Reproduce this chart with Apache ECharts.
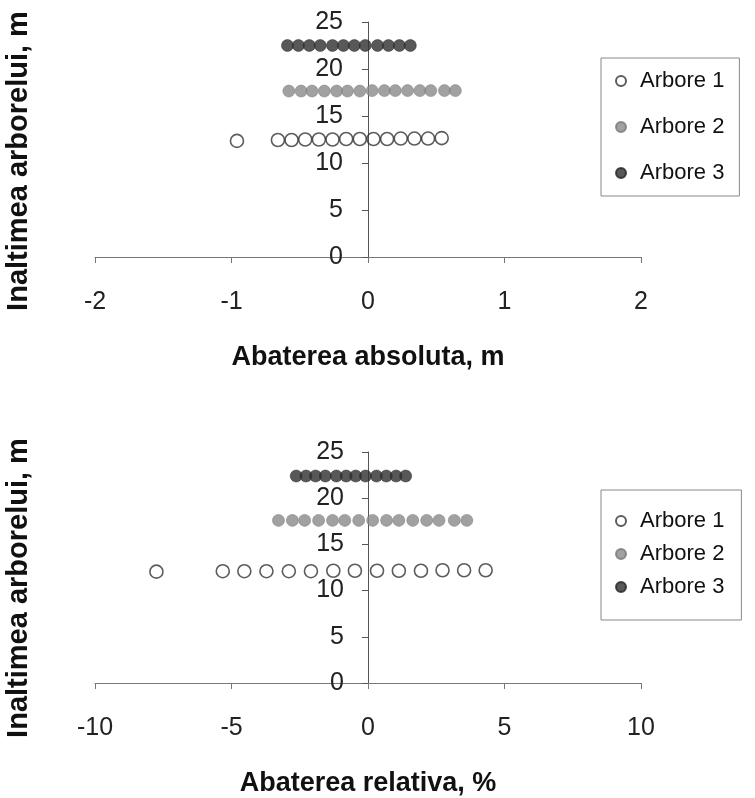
<!DOCTYPE html>
<html>
<head>
<meta charset="utf-8">
<script src="https://cdn.jsdelivr.net/npm/echarts@6/dist/echarts.min.js"></script>
<style>
html,body{margin:0;padding:0;background:#fff;}
#c{width:755px;height:798px;}
</style>
</head>
<body>
<div id="c"></div>
<script>
// ---- data ----
var seriesNames = ['Arbore 1', 'Arbore 2', 'Arbore 3'];
var absTicks = [-2, -1, 0, 1, 2];
var relTicks = [-10, -5, 0, 5, 10];
var heightTicks = [0, 5, 10, 15, 20, 25];

// top chart: absolute deviation (m) vs tree height (m)
var absX1 = [-0.96, -0.66, -0.56, -0.46, -0.36, -0.26, -0.16, -0.06, 0.04, 0.14, 0.24, 0.34, 0.44, 0.54];
var absY1 = [12.35, 12.45, 12.45, 12.5, 12.5, 12.5, 12.55, 12.55, 12.55, 12.55, 12.6, 12.6, 12.6, 12.65];
var absX2 = [-0.58, -0.49, -0.41, -0.32, -0.23, -0.15, -0.06, 0.03, 0.12, 0.20, 0.29, 0.38, 0.46, 0.56, 0.64];
var absY2 = [17.65, 17.65, 17.65, 17.65, 17.65, 17.65, 17.65, 17.7, 17.7, 17.7, 17.7, 17.7, 17.7, 17.7, 17.7];
var absX3 = [-0.59, -0.51, -0.43, -0.35, -0.26, -0.18, -0.10, -0.02, 0.07, 0.15, 0.23, 0.31];
var absY3 = [22.5, 22.5, 22.5, 22.5, 22.5, 22.5, 22.5, 22.5, 22.5, 22.5, 22.5, 22.5];

// bottom chart: relative deviation (%) vs tree height (m)
var relX1 = [-7.75, -5.32, -4.53, -3.72, -2.90, -2.09, -1.27, -0.48, 0.33, 1.13, 1.94, 2.73, 3.52, 4.31];
var relY1 = [12.05, 12.1, 12.1, 12.1, 12.1, 12.1, 12.15, 12.15, 12.15, 12.15, 12.15, 12.2, 12.2, 12.2];
var relX2 = [-3.28, -2.77, -2.32, -1.81, -1.30, -0.85, -0.34, 0.17, 0.68, 1.13, 1.64, 2.15, 2.60, 3.16, 3.62];
var relY2 = [17.6, 17.6, 17.6, 17.6, 17.6, 17.6, 17.6, 17.6, 17.6, 17.6, 17.6, 17.6, 17.6, 17.6, 17.6];
var relX3 = [-2.63, -2.27, -1.92, -1.56, -1.16, -0.80, -0.45, -0.09, 0.31, 0.67, 1.03, 1.38];
var relY3 = [22.4, 22.4, 22.4, 22.4, 22.4, 22.4, 22.4, 22.4, 22.4, 22.4, 22.4, 22.4];

function pairs(xs, ys) { return xs.map(function (x, i) { return [x, ys[i]]; }); }

var FONT = '"Liberation Sans", Arial, sans-serif';
var GRID_W = 546;
var styles = [
  { color: 'rgba(255,255,255,0)', borderColor: '#333', borderWidth: 1.6 },
  { color: '#8a8a8a', borderColor: '#777', borderWidth: 0.6 },
  { color: '#2e2e2e', borderColor: '#222', borderWidth: 0.6 }
];
var sizes = [13, 12, 12];

function xAxisCfg(gi, ticks, interval, name) {
  return {
    type: 'value', gridIndex: gi, min: ticks[0], max: ticks[ticks.length - 1], interval: interval,
    splitLine: { show: false },
    axisLine: { lineStyle: { color: '#777', width: 1 } },
    axisTick: { show: true, length: 6, lineStyle: { color: '#777' } },
    axisLabel: { color: '#222', fontSize: 25, fontFamily: FONT, margin: 33 },
    name: name, nameLocation: 'middle', nameGap: 87,
    nameTextStyle: { color: '#111', fontSize: 27, fontWeight: 'bold', fontFamily: FONT }
  };
}
function yAxisCfg(gi, margin) {
  return {
    type: 'value', gridIndex: gi, min: heightTicks[0], max: heightTicks[heightTicks.length - 1], interval: 5,
    offset: -GRID_W / 2,
    splitLine: { show: false },
    axisLine: { onZero: false, lineStyle: { color: '#555', width: 1 } },
    axisTick: { show: true, length: 6, lineStyle: { color: '#555' } },
    axisLabel: { color: '#222', fontSize: 25, fontFamily: FONT, margin: margin }
  };
}
function scatter(i, xi, data) {
  return {
    type: 'scatter', name: seriesNames[i], xAxisIndex: xi, yAxisIndex: xi,
    data: data, symbol: 'circle', symbolSize: sizes[i], itemStyle: styles[i], z: 3
  };
}
var legendText = { fontSize: 22, fontFamily: FONT, color: '#111', padding: [0, 0, 0, 9] };
var yTitleStyle = { text: 'Inaltimea arborelui, m', fontSize: 29, fontWeight: 'bold', fontFamily: FONT, fill: '#111', align: 'center', verticalAlign: 'middle' };

var chart = echarts.init(document.getElementById('c'), null, { renderer: 'canvas' });
chart.setOption({
  animation: false,
  backgroundColor: '#fff',
  grid: [
    { left: 95, width: GRID_W, top: 22, height: 235 },
    { left: 95, width: GRID_W, top: 452, height: 233 }
  ],
  xAxis: [
    xAxisCfg(0, absTicks, 1, 'Abaterea absoluta, m'),
    xAxisCfg(1, relTicks, 5, 'Abaterea relativa, %')
  ],
  yAxis: [yAxisCfg(0, 25), yAxisCfg(1, 24)],
  legend: [
    { orient: 'vertical', left: 601, top: 58, data: seriesNames, itemGap: 24, itemWidth: 10, itemHeight: 10,
      padding: [12, 15, 12, 14], borderColor: '#888', borderWidth: 1, textStyle: legendText },
    { orient: 'vertical', left: 601, top: 490, data: seriesNames, itemGap: 11, itemWidth: 10, itemHeight: 10,
      padding: [20, 17, 22, 14], borderColor: '#888', borderWidth: 1, textStyle: legendText }
  ],
  graphic: [
    { type: 'text', x: 19, y: 161, rotation: Math.PI / 2, style: yTitleStyle },
    { type: 'text', x: 19, y: 588, rotation: Math.PI / 2, style: yTitleStyle }
  ],
  series: [
    scatter(0, 0, pairs(absX1, absY1)),
    scatter(1, 0, pairs(absX2, absY2)),
    scatter(2, 0, pairs(absX3, absY3)),
    scatter(0, 1, pairs(relX1, relY1)),
    scatter(1, 1, pairs(relX2, relY2)),
    scatter(2, 1, pairs(relX3, relY3))
  ]
});
</script>
</body>
</html>
